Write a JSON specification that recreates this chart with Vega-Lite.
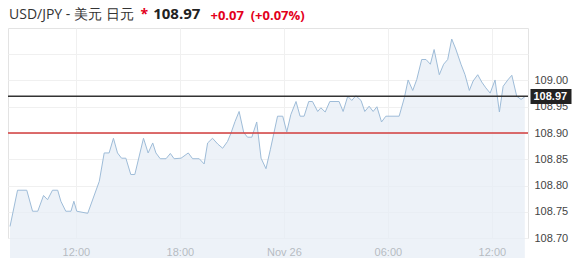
{
  "$schema": "https://vega.github.io/schema/vega-lite/v6.json",
  "width": 520,
  "height": 210,
  "padding": {"left": 7, "top": 7, "right": 0, "bottom": 0},
  "title": {
    "text": "USD/JPY - 美元 日元",
    "subtitle": "\u200b\u00a0\u00a0\u00a0\u00a0\u00a0\u00a0\u00a0\u00a0\u00a0\u00a0\u00a0\u00a0\u00a0\u00a0\u00a0\u00a0\u00a0\u00a0\u00a0\u00a0\u00a0\u00a0\u00a0\u00a0\u00a0\u00a0\u00a0\u00a0\u00a0\u00a0\u00a0\u00a0\u00a0\u00a0\u00a0\u00a0\u00a0108.97",
    "anchor": "start",
    "frame": "group",
    "font": "Open Sans",
    "fontSize": 14,
    "fontWeight": "normal",
    "color": "#333333",
    "subtitleFont": "Open Sans",
    "subtitleFontSize": 15,
    "subtitleFontWeight": "bold",
    "subtitleColor": "#222222",
    "subtitlePadding": -15,
    "offset": -16,
    "dx": 1
  },
  "layer": [
    {
      "data": {"values": [
        {"t": "2019-11-25T08:12", "price": 108.722},
        {"t": "2019-11-25T08:38", "price": 108.791},
        {"t": "2019-11-25T09:10", "price": 108.791},
        {"t": "2019-11-25T09:30", "price": 108.751},
        {"t": "2019-11-25T09:48", "price": 108.751},
        {"t": "2019-11-25T10:08", "price": 108.781},
        {"t": "2019-11-25T10:22", "price": 108.773},
        {"t": "2019-11-25T10:39", "price": 108.791},
        {"t": "2019-11-25T10:57", "price": 108.791},
        {"t": "2019-11-25T11:08", "price": 108.770},
        {"t": "2019-11-25T11:25", "price": 108.751},
        {"t": "2019-11-25T11:43", "price": 108.751},
        {"t": "2019-11-25T11:53", "price": 108.770},
        {"t": "2019-11-25T12:03", "price": 108.751},
        {"t": "2019-11-25T12:41", "price": 108.747},
        {"t": "2019-11-25T13:21", "price": 108.808},
        {"t": "2019-11-25T13:38", "price": 108.862},
        {"t": "2019-11-25T13:55", "price": 108.862},
        {"t": "2019-11-25T14:10", "price": 108.890},
        {"t": "2019-11-25T14:24", "price": 108.862},
        {"t": "2019-11-25T14:38", "price": 108.852},
        {"t": "2019-11-25T14:53", "price": 108.852},
        {"t": "2019-11-25T15:10", "price": 108.821},
        {"t": "2019-11-25T15:24", "price": 108.821},
        {"t": "2019-11-25T15:54", "price": 108.890},
        {"t": "2019-11-25T16:10", "price": 108.862},
        {"t": "2019-11-25T16:26", "price": 108.881},
        {"t": "2019-11-25T16:37", "price": 108.862},
        {"t": "2019-11-25T16:52", "price": 108.851},
        {"t": "2019-11-25T17:12", "price": 108.851},
        {"t": "2019-11-25T17:27", "price": 108.861},
        {"t": "2019-11-25T17:40", "price": 108.851},
        {"t": "2019-11-25T18:04", "price": 108.852},
        {"t": "2019-11-25T18:29", "price": 108.862},
        {"t": "2019-11-25T18:44", "price": 108.851},
        {"t": "2019-11-25T19:07", "price": 108.851},
        {"t": "2019-11-25T19:24", "price": 108.841},
        {"t": "2019-11-25T19:36", "price": 108.881},
        {"t": "2019-11-25T19:53", "price": 108.890},
        {"t": "2019-11-25T20:11", "price": 108.879},
        {"t": "2019-11-25T20:28", "price": 108.871},
        {"t": "2019-11-25T20:45", "price": 108.884},
        {"t": "2019-11-25T20:57", "price": 108.900},
        {"t": "2019-11-25T21:11", "price": 108.922},
        {"t": "2019-11-25T21:25", "price": 108.941},
        {"t": "2019-11-25T21:41", "price": 108.901},
        {"t": "2019-11-25T21:54", "price": 108.892},
        {"t": "2019-11-25T22:09", "price": 108.892},
        {"t": "2019-11-25T22:26", "price": 108.921},
        {"t": "2019-11-25T22:41", "price": 108.852},
        {"t": "2019-11-25T22:58", "price": 108.832},
        {"t": "2019-11-25T23:13", "price": 108.868},
        {"t": "2019-11-25T23:38", "price": 108.932},
        {"t": "2019-11-25T23:56", "price": 108.932},
        {"t": "2019-11-26T00:10", "price": 108.902},
        {"t": "2019-11-26T00:24", "price": 108.935},
        {"t": "2019-11-26T00:42", "price": 108.960},
        {"t": "2019-11-26T00:56", "price": 108.932},
        {"t": "2019-11-26T01:10", "price": 108.932},
        {"t": "2019-11-26T01:26", "price": 108.960},
        {"t": "2019-11-26T01:39", "price": 108.960},
        {"t": "2019-11-26T01:57", "price": 108.941},
        {"t": "2019-11-26T02:08", "price": 108.948},
        {"t": "2019-11-26T02:23", "price": 108.940},
        {"t": "2019-11-26T02:39", "price": 108.960},
        {"t": "2019-11-26T03:11", "price": 108.960},
        {"t": "2019-11-26T03:25", "price": 108.941},
        {"t": "2019-11-26T03:41", "price": 108.970},
        {"t": "2019-11-26T03:55", "price": 108.962},
        {"t": "2019-11-26T04:09", "price": 108.971},
        {"t": "2019-11-26T04:27", "price": 108.962},
        {"t": "2019-11-26T04:40", "price": 108.941},
        {"t": "2019-11-26T04:55", "price": 108.951},
        {"t": "2019-11-26T05:09", "price": 108.941},
        {"t": "2019-11-26T05:22", "price": 108.950},
        {"t": "2019-11-26T05:38", "price": 108.921},
        {"t": "2019-11-26T05:53", "price": 108.932},
        {"t": "2019-11-26T06:39", "price": 108.932},
        {"t": "2019-11-26T06:57", "price": 108.967},
        {"t": "2019-11-26T07:10", "price": 109.001},
        {"t": "2019-11-26T07:26", "price": 108.981},
        {"t": "2019-11-26T07:40", "price": 109.002},
        {"t": "2019-11-26T07:57", "price": 109.040},
        {"t": "2019-11-26T08:12", "price": 109.040},
        {"t": "2019-11-26T08:27", "price": 109.031},
        {"t": "2019-11-26T08:40", "price": 109.059},
        {"t": "2019-11-26T08:58", "price": 109.011},
        {"t": "2019-11-26T09:13", "price": 109.031},
        {"t": "2019-11-26T09:27", "price": 109.040},
        {"t": "2019-11-26T09:41", "price": 109.079},
        {"t": "2019-11-26T09:55", "price": 109.060},
        {"t": "2019-11-26T10:13", "price": 109.031},
        {"t": "2019-11-26T10:27", "price": 109.011},
        {"t": "2019-11-26T10:42", "price": 108.981},
        {"t": "2019-11-26T10:55", "price": 108.999},
        {"t": "2019-11-26T11:11", "price": 109.011},
        {"t": "2019-11-26T11:25", "price": 108.997},
        {"t": "2019-11-26T11:39", "price": 108.986},
        {"t": "2019-11-26T11:54", "price": 108.976},
        {"t": "2019-11-26T12:11", "price": 109.001},
        {"t": "2019-11-26T12:26", "price": 108.940},
        {"t": "2019-11-26T12:39", "price": 108.989},
        {"t": "2019-11-26T12:55", "price": 109.001},
        {"t": "2019-11-26T13:09", "price": 109.010},
        {"t": "2019-11-26T13:26", "price": 108.970},
        {"t": "2019-11-26T13:41", "price": 108.964},
        {"t": "2019-11-26T13:54", "price": 108.969}
      ]},
      "mark": {"type": "area", "color": "#e5edf5", "line": {"color": "#9ebcd8", "strokeWidth": 1}},
      "encoding": {
        "x": {
          "field": "t", "type": "temporal",
          "scale": {"domain": [
            {"year": 2019, "month": 11, "date": 25, "hours": 8, "minutes": 5},
            {"year": 2019, "month": 11, "date": 26, "hours": 14, "minutes": 5}
          ]},
          "axis": {
            "values": [
              {"year": 2019, "month": 11, "date": 25, "hours": 12},
              {"year": 2019, "month": 11, "date": 25, "hours": 18},
              {"year": 2019, "month": 11, "date": 26, "hours": 0},
              {"year": 2019, "month": 11, "date": 26, "hours": 6},
              {"year": 2019, "month": 11, "date": 26, "hours": 12}
            ],
            "labelExpr": "hours(datum.value) == 0 ? timeFormat(datum.value, '%b %d') : timeFormat(datum.value, '%H:%M')",
            "ticks": false, "tickSize": 0, "domain": false, "labelPadding": 8,
            "labelFont": "Liberation Sans", "labelFontSize": 11, "labelColor": "#444444",
            "labelOverlap": false, "labelFlush": false,
            "grid": true, "gridColor": "#f0f0f0",
            "title": "+0.07\u00a0\u00a0(+0.07%)",
            "titleX": 202, "titleY": -219, "titleAlign": "left", "titleBaseline": "alphabetic", "titleAngle": 0,
            "titleColor": "#e3001b", "titleFont": "Open Sans", "titleFontSize": 13, "titleFontWeight": "bold"
          }
        },
        "y": {
          "field": "price", "type": "quantitative",
          "scale": {"domain": [108.70, 109.10], "zero": false, "nice": false},
          "axis": {
            "orient": "right",
            "values": [108.7, 108.75, 108.8, 108.85, 108.9, 108.95, 109.0, 109.05],
            "labelExpr": "datum.value > 109.02 ? '' : format(datum.value, '.2f')",
            "title": null, "ticks": false, "tickSize": 0, "domain": false, "labelPadding": 6,
            "labelFont": "Liberation Sans", "labelFontSize": 11, "labelColor": "#444444",
            "grid": true, "gridColor": "#f0f0f0"
          }
        }
      }
    },
    {
      "data": {"values": [{"level": 108.90}]},
      "mark": {"type": "rule", "color": "#d23c3c", "strokeWidth": 1.5},
      "encoding": {"y": {"field": "level", "type": "quantitative", "axis": null}}
    },
    {
      "data": {"values": [{"level": 108.97}]},
      "mark": {"type": "rule", "color": "#333333", "strokeWidth": 1.5},
      "encoding": {
        "y": {
          "field": "level", "type": "quantitative",
          "axis": {
            "orient": "right", "values": [108.97], "format": ".2f",
            "grid": false, "domain": false, "ticks": true, "tickSize": 41, "tickWidth": 15, "tickColor": "#222222",
            "offset": 2, "labelPadding": -38, "labelColor": "#ffffff",
            "labelFont": "Liberation Sans", "labelFontSize": 11, "labelFontWeight": "bold",
            "title": "*", "titleX": -390, "titleY": -10, "titleAngle": 0, "titleAlign": "left", "titleBaseline": "alphabetic",
            "titleColor": "#e3001b", "titleFont": "Open Sans", "titleFontSize": 14, "titleFontWeight": "bold"
          }
        }
      }
    }
  ],
  "resolve": {"axis": {"y": "independent"}},
  "config": {"view": {"stroke": "#e3e3e3"}, "font": "Open Sans"}
}
